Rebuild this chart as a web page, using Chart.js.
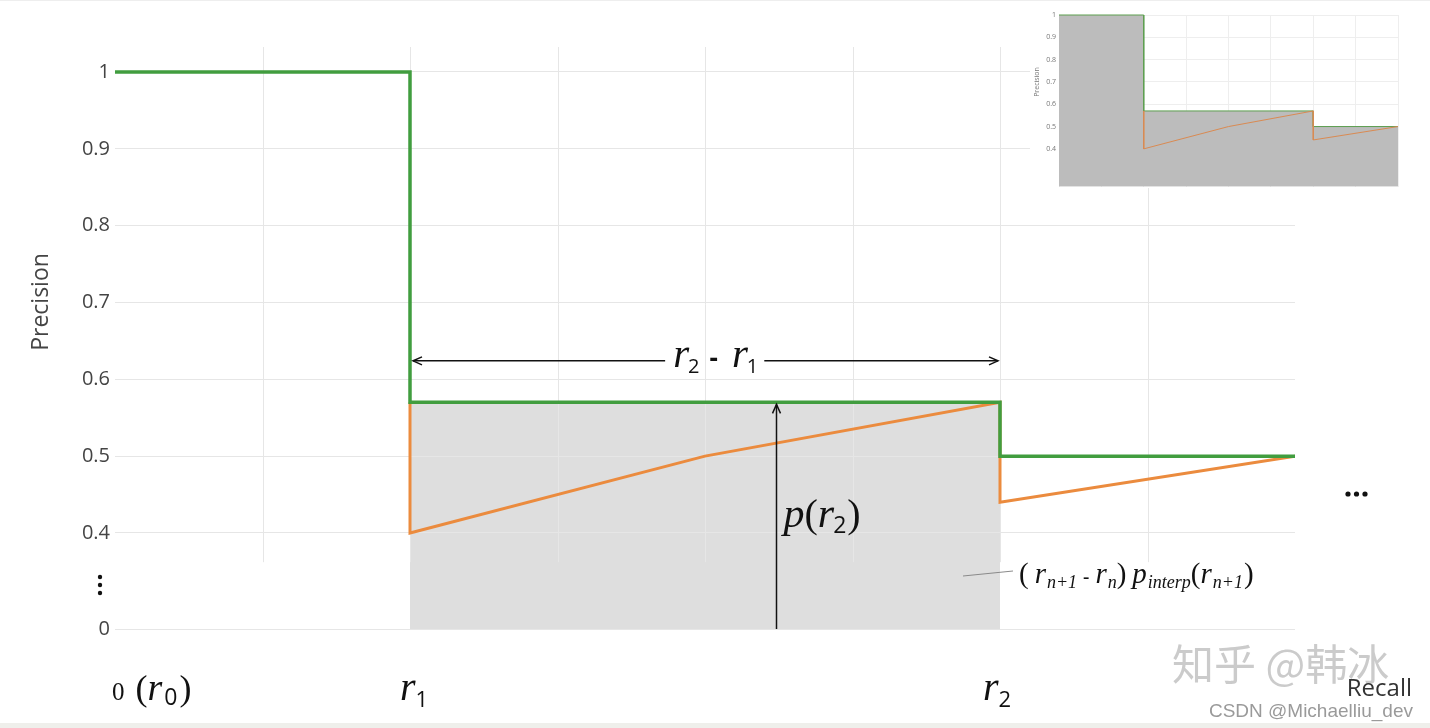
<!DOCTYPE html>
<html>
<head>
<meta charset="utf-8">
<script src="https://cdn.jsdelivr.net/npm/chart.js@4"></script>
<style>
  html, body { margin: 0; background: #fff; }
  #wrap { position: relative; width: 1430px; height: 728px; overflow: hidden; }
  #main { position: absolute; left: 0; top: 0; }
  #inset { position: absolute; left: 1030px; top: 0; }
</style>
</head>
<body>
<div id="wrap">
  <canvas id="main" width="1430" height="728"></canvas>
  <canvas id="inset" width="400" height="194"></canvas>
</div>
<script>
// broken y axis: the "0" tick sits where 0.275 would be
const AXIS_ZERO = 0.275;
const GRID_BREAK = 0.362;

// interpolated precision (green) and raw precision (orange)
const recallInterp = [0, 0.25, 0.25, 0.75, 0.75, 1];
const precisionInterp = [1, 1, 0.57, 0.57, 0.5, 0.5];
const recallRaw = [0.25, 0.25, 0.5, 0.75, 0.75, 1];
const precisionRaw = [0.57, 0.4, 0.5, 0.57, 0.44, 0.5];

// shaded rectangle (r2 - r1) * p(r2)
const areaRecall = [0.25, 0.75];
const areaPrecision = [0.57, 0.57];

const yTicks = [AXIS_ZERO, 0.4, 0.5, 0.6, 0.7, 0.8, 0.9, 1];
const yTickLabels = ['0', '0.4', '0.5', '0.6', '0.7', '0.8', '0.9', '1'];
const xGrid = [0.125, 0.25, 0.375, 0.5, 0.625, 0.75, 0.875];

const insetTicks = [0.4, 0.5, 0.6, 0.7, 0.8, 0.9, 1];
const insetTickLabels = ['0.4', '0.5', '0.6', '0.7', '0.8', '0.9', '1'];

const GREEN = '#419d3f';
const ORANGE = '#eb8b3e';

const pts = (xs, ys) => xs.map((x, i) => ({ x: x, y: ys[i] }));
const serif = (s, it) => (it ? 'italic ' : '') + s + 'px "Liberation Serif"';
const sans = s => s + 'px "Open Sans"';

function runsWidth(ctx, runs) {
    let w = 0;
    runs.forEach(r => { ctx.font = r.f; w += ctx.measureText(r.t).width + (r.gap || 0); });
    return w;
}
function drawRuns(ctx, x, y, runs) {
    runs.forEach(r => {
        ctx.font = r.f;
        ctx.fillText(r.t, x, y + (r.dy || 0));
        x += ctx.measureText(r.t).width + (r.gap || 0);
    });
}
// open chevron pointing along (dx, dy)
function arrowHead(ctx, x, y, dx, dy) {
    const len = 9, w = 4;
    ctx.beginPath();
    ctx.moveTo(x - dx * len + dy * w, y - dy * len - dx * w);
    ctx.lineTo(x, y);
    ctx.lineTo(x - dx * len - dy * w, y - dy * len + dx * w);
    ctx.stroke();
}
function dot(ctx, x, y, r) {
    ctx.beginPath();
    ctx.arc(x, y, r, 0, Math.PI * 2);
    ctx.fill();
}

const notes = {
    id: 'notes',
    beforeDatasetsDraw(chart) {
        // vertical grid stops short of the axis break
        const { ctx, chartArea, scales: { x, y } } = chart;
        ctx.save();
        ctx.strokeStyle = '#e6e6e6';
        ctx.lineWidth = 1;
        xGrid.forEach(v => {
            const px = Math.round(x.getPixelForValue(v)) + 0.5;
            ctx.beginPath();
            ctx.moveTo(px, chartArea.top);
            ctx.lineTo(px, y.getPixelForValue(GRID_BREAK));
            ctx.stroke();
        });
        ctx.restore();
    },
    afterDraw(chart) {
        const { ctx, chartArea, scales: { x, y } } = chart;
        ctx.save();
        ctx.fillStyle = '#111';
        ctx.strokeStyle = '#111';
        ctx.lineWidth = 1.5;
        ctx.textBaseline = 'alphabetic';

        // r2 - r1 span arrow
        const ay = y.getPixelForValue(0.624);
        const ax1 = x.getPixelForValue(0.25) + 3, ax2 = x.getPixelForValue(0.75) - 2;
        const spanRuns = [
            { t: 'r', f: serif(41, 1), gap: -1 },
            { t: '2', f: sans(20), dy: 6, gap: 10 },
            { t: '-', f: 'bold 26px "Open Sans"', gap: 14 },
            { t: 'r', f: serif(41, 1), gap: -1 },
            { t: '1', f: sans(20), dy: 6 }
        ];
        const tx = x.getPixelForValue(0.473);
        const tw = runsWidth(ctx, spanRuns);
        ctx.beginPath();
        ctx.moveTo(ax1, ay); ctx.lineTo(tx - 8, ay);
        ctx.moveTo(tx + tw + 6, ay); ctx.lineTo(ax2, ay);
        ctx.stroke();
        arrowHead(ctx, ax1, ay, -1, 0);
        arrowHead(ctx, ax2, ay, 1, 0);
        drawRuns(ctx, tx, ay + 6, spanRuns);

        // p(r2) height arrow
        const vx = Math.round(x.getPixelForValue(0.56)) + 0.5;
        const vTop = y.getPixelForValue(0.57) + 2;
        ctx.beginPath();
        ctx.moveTo(vx, chartArea.bottom); ctx.lineTo(vx, vTop);
        ctx.stroke();
        arrowHead(ctx, vx, vTop, 0, -1);
        drawRuns(ctx, vx + 7, 527, [
            { t: 'p', f: serif(42, 1) },
            { t: '(', f: serif(40) },
            { t: 'r', f: serif(42, 1), gap: -1 },
            { t: '2', f: sans(23), dy: 6, gap: 1 },
            { t: ')', f: serif(40) }
        ]);

        // area formula with leader line
        ctx.strokeStyle = '#8a8a8a';
        ctx.lineWidth = 1;
        ctx.beginPath();
        ctx.moveTo(963, 576); ctx.lineTo(1013, 571);
        ctx.stroke();
        ctx.fillStyle = '#111';
        const sub = serif(18, 1);
        drawRuns(ctx, 1019, 583, [
            { t: '(', f: serif(29), gap: 6 },
            { t: 'r', f: serif(29, 1), gap: 1 },
            { t: 'n+1', f: sub, dy: 5, gap: 6 },
            { t: '-', f: 'bold 19px "Liberation Serif"', gap: 6 },
            { t: 'r', f: serif(29, 1), gap: 1 },
            { t: 'n', f: sub, dy: 5 },
            { t: ')', f: serif(29), gap: 6 },
            { t: 'p', f: serif(29, 1), gap: 1 },
            { t: 'interp', f: sub, dy: 5 },
            { t: '(', f: serif(29) },
            { t: 'r', f: serif(29, 1), gap: 1 },
            { t: 'n+1', f: sub, dy: 5, gap: 1 },
            { t: ')', f: serif(29) }
        ]);

        // recall markers under the axis
        const base = 700;
        drawRuns(ctx, 112, base, [
            { t: '0', f: serif(25), gap: 11 },
            { t: '(', f: serif(36) },
            { t: 'r', f: serif(38, 1), gap: 2 },
            { t: '0', f: sans(23), dy: 5, gap: 2 },
            { t: ')', f: serif(36) }
        ]);
        drawRuns(ctx, x.getPixelForValue(0.25) - 10, base, [
            { t: 'r', f: serif(40, 1), gap: 0 },
            { t: '1', f: sans(22), dy: 7 }
        ]);
        drawRuns(ctx, x.getPixelForValue(0.75) - 17, base, [
            { t: 'r', f: serif(40, 1), gap: 0 },
            { t: '2', f: sans(22), dy: 7 }
        ]);

        // ellipses
        [1348, 1356.5, 1365].forEach(px => dot(ctx, px, 494, 2.6));
        [577, 585, 593].forEach(py => dot(ctx, 100, py, 2.2));

        // axis titles
        ctx.fillStyle = '#444';
        ctx.font = sans(23);
        ctx.save();
        ctx.translate(48, 302);
        ctx.rotate(-Math.PI / 2);
        ctx.textAlign = 'center';
        ctx.fillText('Precision', 0, 0);
        ctx.restore();

        // watermarks
        ctx.font = '42px "Noto Sans CJK SC"';
        ctx.fillStyle = 'rgba(175,175,175,0.65)';
        ctx.fillText('知乎 @韩冰', 1172, 680);

        ctx.textAlign = 'right';
        ctx.fillStyle = '#333';
        ctx.font = sans(24);
        ctx.fillText('Recall', 1412, 696);
        ctx.fillStyle = '#9a9a9a';
        ctx.font = '19px "Liberation Sans"';
        ctx.fillText('CSDN @Michaelliu_dev', 1413, 717);

        // faint frame of the screenshot
        ctx.fillStyle = '#efefeb';
        ctx.fillRect(0, 723, 1430, 5);
        ctx.fillStyle = '#eeeeee';
        ctx.fillRect(0, 0, 1430, 1);
        ctx.restore();
    }
};

new Chart(document.getElementById('main'), {
    type: 'line',
    data: {
        datasets: [
            { data: pts(recallInterp, precisionInterp), borderColor: GREEN, borderWidth: 3.5, order: 1 },
            { data: pts(recallRaw, precisionRaw), borderColor: ORANGE, borderWidth: 3, order: 2 },
            { data: pts(areaRecall, areaPrecision), borderWidth: 0, borderColor: 'rgba(0,0,0,0)',
              backgroundColor: '#dedede', fill: 'start', order: 3 }
        ]
    },
    options: {
        responsive: false,
        animation: false,
        layout: { padding: { left: 0, right: 135, top: 47, bottom: 99 } },
        elements: {
            point: { radius: 0 },
            line: { tension: 0, borderJoinStyle: 'miter', borderCapStyle: 'butt' }
        },
        scales: {
            x: { type: 'linear', min: 0, max: 1, display: false },
            y: {
                min: AXIS_ZERO,
                max: 1.0325,
                afterFit(s) { s.width = 115; },
                afterBuildTicks(s) { s.ticks = yTicks.map(v => ({ value: v })); },
                ticks: {
                    callback: (v, i) => yTickLabels[i],
                    font: { family: 'Open Sans', size: 20 },
                    color: '#444',
                    padding: 5,
                    autoSkip: false
                },
                grid: { color: '#e6e6e6', drawTicks: false },
                border: { display: false }
            }
        },
        plugins: {
            legend: { display: false },
            tooltip: { enabled: false },
            filler: { drawTime: 'beforeDraw' }
        }
    },
    plugins: [notes]
});

// small overview chart in the top right corner
const insetDecor = {
    id: 'insetDecor',
    beforeDraw(chart) {
        // white box hiding the big chart behind the inset
        const ctx = chart.ctx;
        ctx.save();
        ctx.fillStyle = '#fff';
        ctx.fillRect(0, 1, chart.width, 187);
        ctx.restore();
    },
    afterDraw(chart) {
        const ctx = chart.ctx;
        ctx.save();
        ctx.fillStyle = '#777';
        ctx.font = sans(7);
        ctx.translate(9, 82);
        ctx.rotate(-Math.PI / 2);
        ctx.textAlign = 'center';
        ctx.fillText('Precision', 0, 0);
        ctx.restore();
    }
};

new Chart(document.getElementById('inset'), {
    type: 'line',
    data: {
        datasets: [
            { data: pts(recallInterp, precisionInterp), borderColor: '#5c9e4f', borderWidth: 1,
              fill: 'start', backgroundColor: '#bcbcbc', order: 2, clip: 3 },
            { data: pts(recallRaw, precisionRaw), borderColor: '#d98a52', borderWidth: 1, order: 1 }
        ]
    },
    options: {
        responsive: false,
        animation: false,
        layout: { padding: { left: 0, right: 32, top: 15, bottom: 2 } },
        elements: { point: { radius: 0 }, line: { tension: 0 } },
        scales: {
            x: {
                type: 'linear', min: 0, max: 1,
                ticks: { display: false, stepSize: 0.125 },
                grid: { color: '#eeeeee', drawTicks: false },
                border: { display: false }
            },
            y: {
                min: 0.23,
                max: 1,
                afterFit(s) { s.width = 29; },
                afterBuildTicks(s) { s.ticks = insetTicks.map(v => ({ value: v })); },
                ticks: {
                    callback: (v, i) => insetTickLabels[i],
                    font: { family: 'Open Sans', size: 7 },
                    color: '#777',
                    padding: 3
                },
                grid: { color: '#eeeeee', drawTicks: false },
                border: { display: false }
            }
        },
        plugins: { legend: { display: false }, tooltip: { enabled: false } }
    },
    plugins: [insetDecor]
});
</script>
</body>
</html>
